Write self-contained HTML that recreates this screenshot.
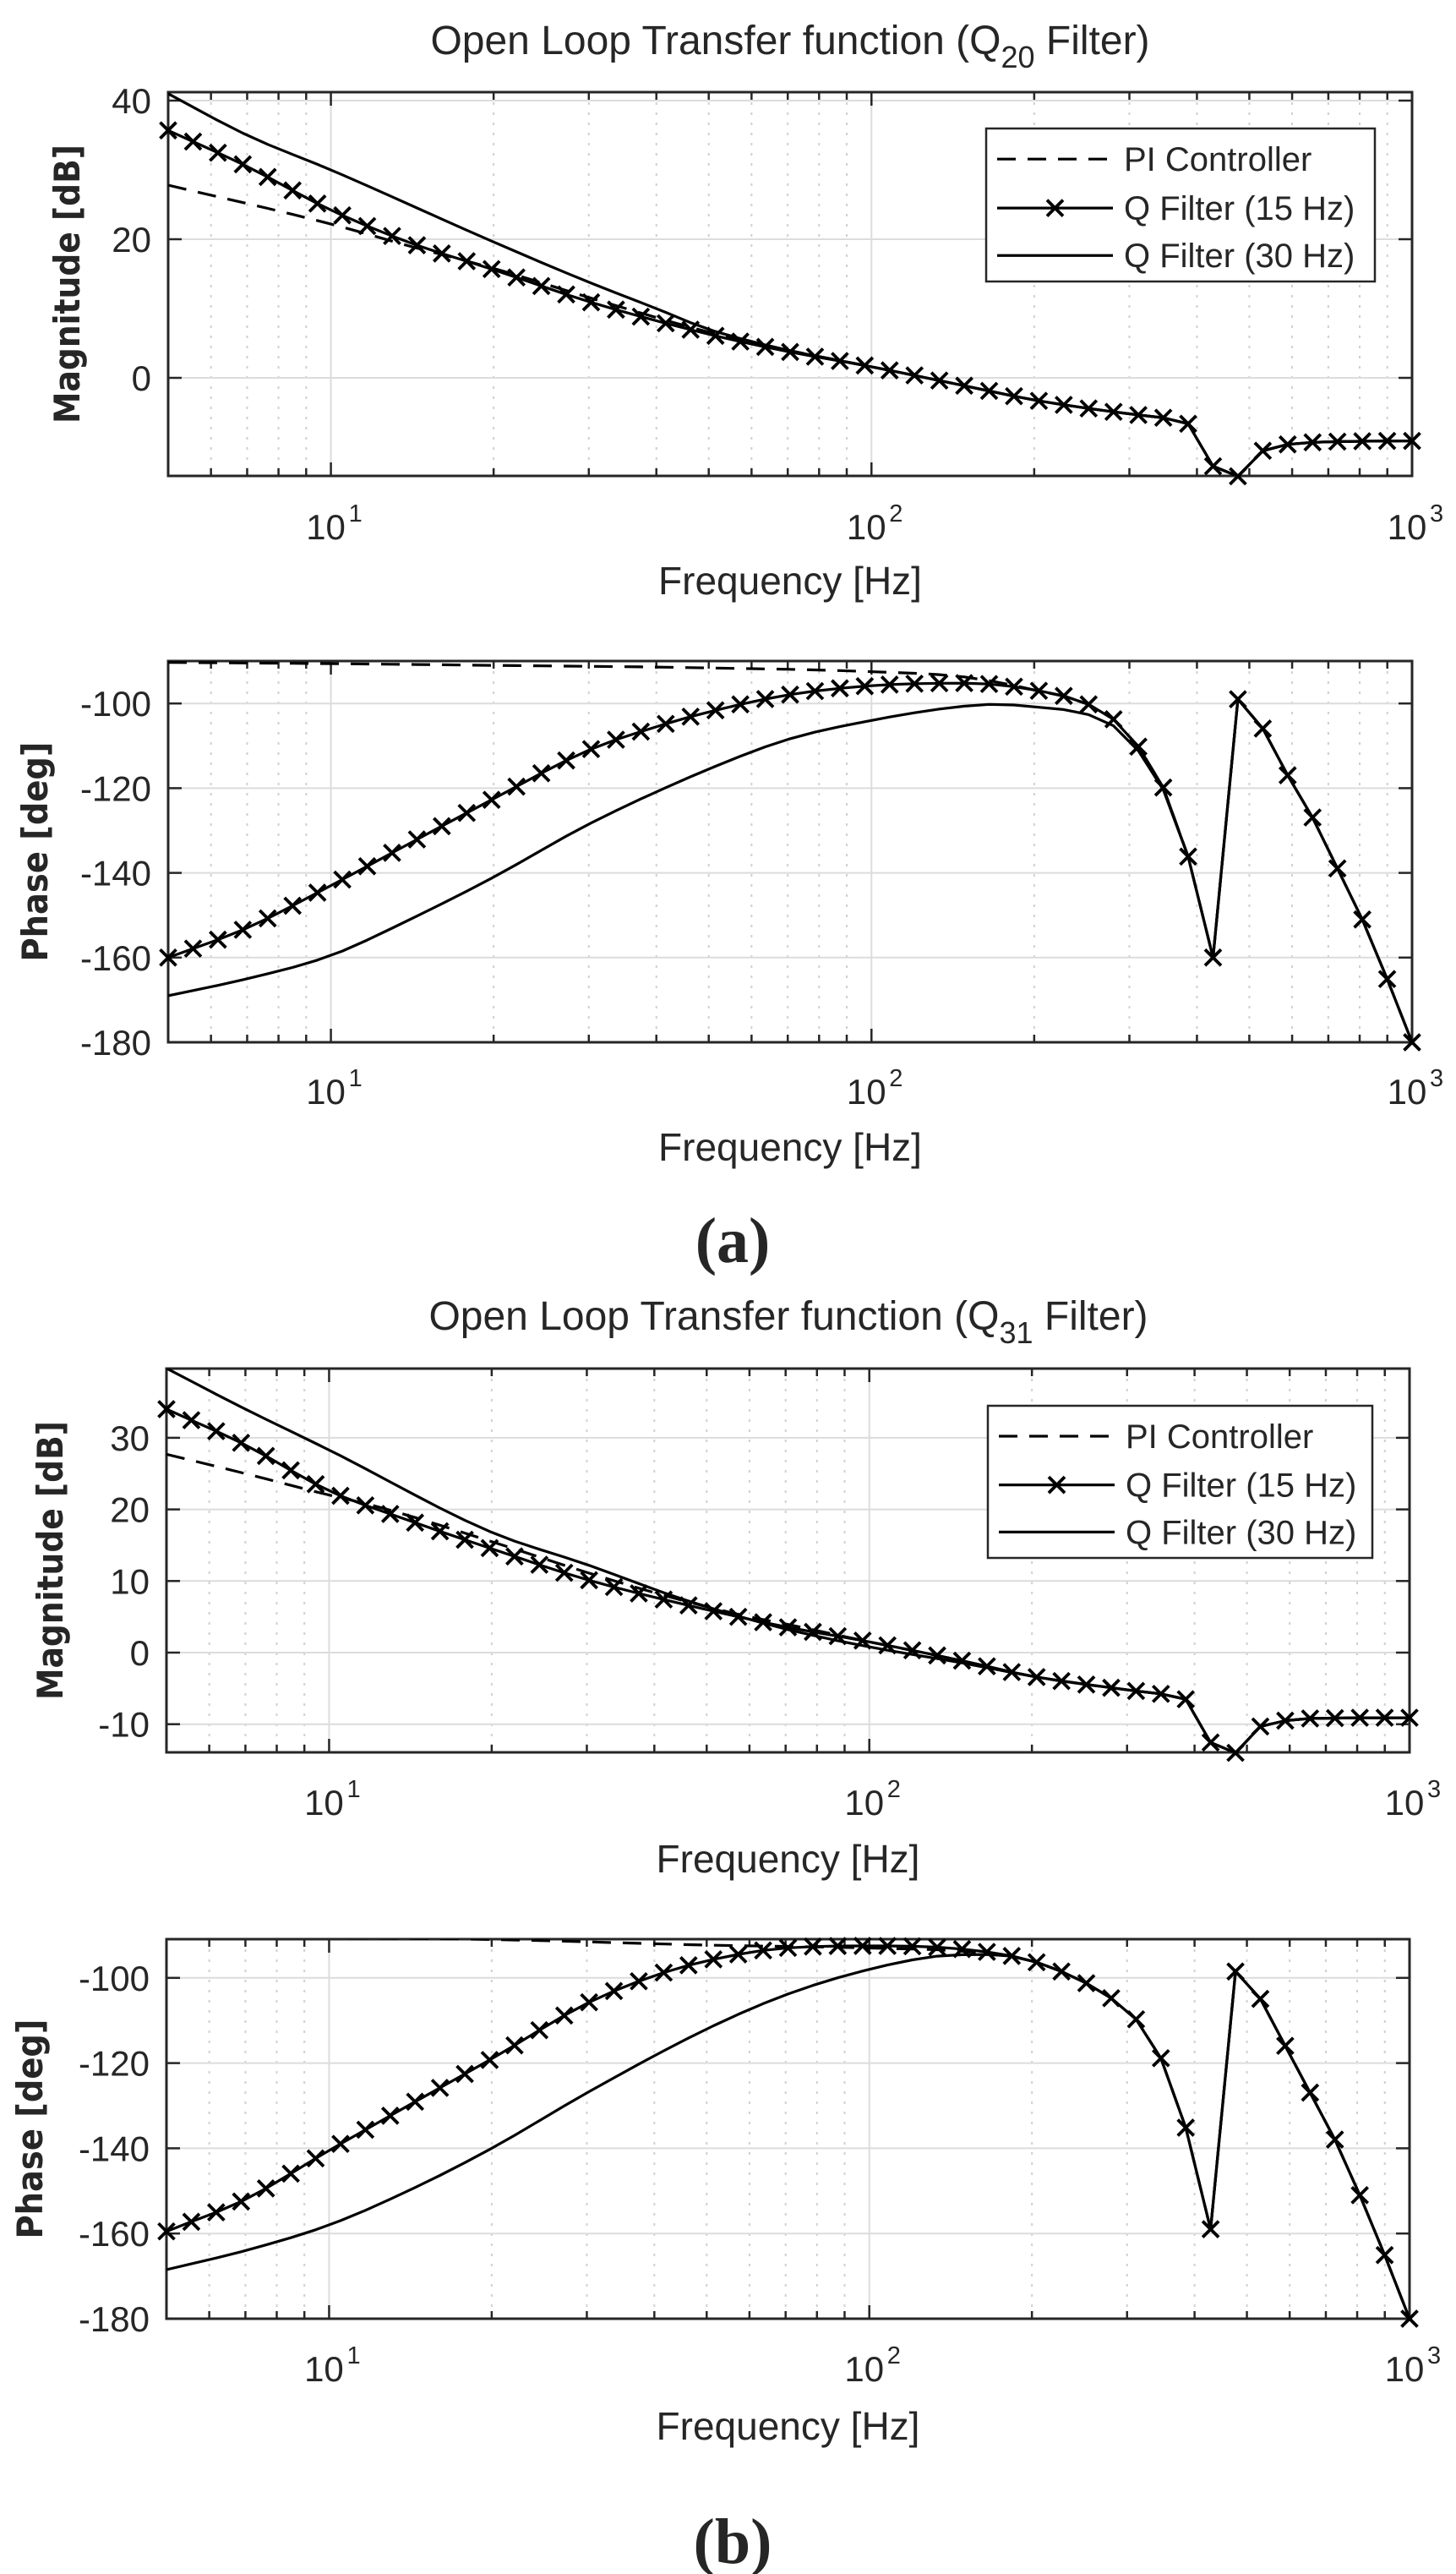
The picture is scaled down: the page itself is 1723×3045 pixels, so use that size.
<!DOCTYPE html>
<html><head><meta charset="utf-8">
<style>
html,body{margin:0;padding:0;background:#fff;}
svg{display:block;}
text{font-family:"Liberation Sans",Arial,sans-serif;fill:#262626;}
</style></head>
<body>
<svg id="s" xmlns="http://www.w3.org/2000/svg" width="1723" height="3045" viewBox="0 0 1723 3045"></svg>
<script>
const S=document.getElementById('s');
let out='';
const L5=Math.log10(5);
const grid=[];for(let k=0;k<=50;k++)grid.push(Math.pow(10,L5+k*(3-L5)/50));
function interp(pts,f){
 const xs=pts.map(p=>Math.log10(p[0])),ys=pts.map(p=>p[1]);const n=xs.length;const lf=Math.log10(f);
 const d=[];for(let i=0;i<n-1;i++)d.push((ys[i+1]-ys[i])/(xs[i+1]-xs[i]));
 const m=[d[0]];for(let i=1;i<n-1;i++){m.push(d[i-1]*d[i]<=0?0:(d[i-1]+d[i])/2);}m.push(d[n-2]);
 for(let i=0;i<n-1;i++){if(d[i]==0){m[i]=0;m[i+1]=0;continue;}const a=m[i]/d[i],b=m[i+1]/d[i];const s=a*a+b*b;if(s>9){const t=3/Math.sqrt(s);m[i]=t*a*d[i];m[i+1]=t*b*d[i];}}
 for(let i=0;i<n-1;i++){if(lf>=xs[i]-1e-9&&lf<=xs[i+1]+1e-9){const h=xs[i+1]-xs[i];const t=(lf-xs[i])/h;
  const h00=2*t*t*t-3*t*t+1,h10=t*t*t-2*t*t+t,h01=-2*t*t*t+3*t*t,h11=t*t*t-t*t;
  return h00*ys[i]+h10*h*m[i]+h01*ys[i+1]+h11*h*m[i+1];}}
 return ys[n-1];}
function axes(ax){
 const {L,R,T,B,y,yt,clip}=ax;
 const X=f=>L+(Math.log10(f)-L5)/(3-L5)*(R-L);
 ax.X=X;
 out+=`<defs><clipPath id="${clip}"><rect x="${L}" y="${T}" width="${R-L}" height="${B-T}"/></clipPath></defs>`;
 for(let d=0;d<3;d++)for(let m=1;m<10;m++){const f=m*Math.pow(10,d);if(f<5.01||f>1000)continue;
  const x=X(f);
  if(m==1){out+=`<line x1="${x}" y1="${T}" x2="${x}" y2="${B}" stroke="#dcdcdc" stroke-width="2"/>`;}
  else{out+=`<line x1="${x}" y1="${T}" x2="${x}" y2="${B}" stroke="#d0d0d0" stroke-width="2" stroke-dasharray="3,9"/>`;
   out+=`<line x1="${x}" y1="${B}" x2="${x}" y2="${B-9}" stroke="#262626" stroke-width="2.5"/><line x1="${x}" y1="${T}" x2="${x}" y2="${T+9}" stroke="#262626" stroke-width="2.5"/>`;}
 }
 yt.forEach(v=>{const yy=y(v);out+=`<line x1="${L}" y1="${yy}" x2="${R}" y2="${yy}" stroke="#dcdcdc" stroke-width="2"/>`;});
 [10,100].forEach(f=>{const x=X(f);out+=`<line x1="${x}" y1="${B}" x2="${x}" y2="${B-16}" stroke="#262626" stroke-width="2.5"/><line x1="${x}" y1="${T}" x2="${x}" y2="${T+16}" stroke="#262626" stroke-width="2.5"/>`;});
 yt.forEach(v=>{const yy=y(v);out+=`<line x1="${L}" y1="${yy}" x2="${L+16}" y2="${yy}" stroke="#262626" stroke-width="2.5"/><line x1="${R}" y1="${yy}" x2="${R-16}" y2="${yy}" stroke="#262626" stroke-width="2.5"/>`;
  out+=`<text x="${L-20}" y="${yy+15}" font-size="42" text-anchor="end">${v}</text>`;});
 out+=`<rect x="${L}" y="${T}" width="${R-L}" height="${B-T}" fill="none" stroke="#262626" stroke-width="3"/>`;
 [[10,1],[100,2],[1000,3]].forEach(([f,e])=>{const x=X(f);
  out+=`<text x="${x-6}" y="${ax.xtb}" font-size="42" text-anchor="middle">10</text><text x="${x+21}" y="${ax.xtb-21}" font-size="29">${e}</text>`;});
 out+=`<text x="${(L+R)/2}" y="${ax.xlb}" font-size="46" text-anchor="middle">Frequency [Hz]</text>`;
 out+=`<text transform="translate(${ax.ylx+6},${(T+B)/2}) rotate(-90)" font-size="42" font-weight="bold" text-anchor="middle" textLength="${ax.ylw}" lengthAdjust="spacingAndGlyphs" style="font-family:'DejaVu Sans',sans-serif" fill="#333">${ax.ylab}</text>`;
}
function curve(ax,pts,opt){
 const P=grid.map(f=>[ax.X(f),ax.y(interp(pts,f))]);
 const d='M'+P.map(p=>p[0].toFixed(1)+','+p[1].toFixed(1)).join('L');
 out+=`<path d="${d}" fill="none" stroke="#000" stroke-width="3.2" ${opt.dash?'stroke-dasharray="22,14"':''} clip-path="url(#${ax.clip})" stroke-linejoin="round"/>`;
 if(opt.mark){P.forEach(p=>{const yy=Math.min(Math.max(p[1],ax.T-2),ax.B+2);out+=xm(p[0],yy);});}
}
function xm(x,y){const r=9.5;return `<path d="M${x-r},${y-r}L${x+r},${y+r}M${x-r},${y+r}L${x+r},${y-r}" stroke="#000" stroke-width="3.8"/>`;}
function legend(x1,y1,x2,y2){
 out+=`<rect x="${x1}" y="${y1}" width="${x2-x1}" height="${y2-y1}" fill="#fff" stroke="#262626" stroke-width="2.5"/>`;
 const h=y2-y1;const rows=[y1+h*0.2,y1+h*0.52,y1+h*0.83];
 const lx1=x1+13,lx2=x1+150,tx=x1+163;
 out+=`<line x1="${lx1}" y1="${rows[0]}" x2="${lx2}" y2="${rows[0]}" stroke="#000" stroke-width="3.2" stroke-dasharray="22,14"/>`;
 out+=`<line x1="${lx1}" y1="${rows[1]}" x2="${lx2}" y2="${rows[1]}" stroke="#000" stroke-width="3.2"/>`+xm((lx1+lx2)/2,rows[1]);
 out+=`<line x1="${lx1}" y1="${rows[2]}" x2="${lx2}" y2="${rows[2]}" stroke="#000" stroke-width="3.2"/>`;
 ['PI Controller','Q Filter (15 Hz)','Q Filter (30 Hz)'].forEach((t,i)=>out+=`<text x="${tx}" y="${rows[i]+14}" font-size="40">${t}</text>`);
}
const hiMagA=[[100,1.6],[150,-1.2],[200,-3.2],[300,-5.2],[350,-5.8],[385,-6.6],[429,-12.8],[476,-14.2],[530,-10.5],[589,-9.6],[655,-9.3],[728,-9.2],[809,-9.15],[899,-9.1],[1000,-9.1]];
const hiPhA=[[200,-96.8],[250,-100],[282,-104],[313,-110.5],[347,-120],[385,-136],[429,-160],[476,-99],[530,-106],[589,-117],[655,-127],[728,-139],[809,-151],[899,-165],[1000,-180]];
const hiMagB=[[100,1.5],[150,-1.2],[200,-3.3],[300,-5.2],[350,-5.8],[385,-6.5],[429,-12.6],[476,-14],[530,-10.3],[589,-9.5],[655,-9.2],[728,-9.15],[809,-9.1],[899,-9.1],[1000,-9.1]];
const hiPhB=[[200,-96],[250,-101],[282,-105],[313,-110],[347,-119],[385,-135],[429,-159],[476,-98.5],[530,-105],[589,-116],[655,-127],[728,-138],[809,-151],[899,-165],[1000,-180]];

const A1={L:199,R:1671,T:109,B:563,y:v=>447-v*8.2,yt:[0,20,40],clip:'c1',xtb:638,xlb:703,ylx:88,ylw:330,ylab:'Magnitude [dB]'};
out+=`<text x="935" y="64" font-size="48" text-anchor="middle">Open Loop Transfer function (Q<tspan dy="16" font-size="36">20</tspan><tspan dy="-16"> Filter)</tspan></text>`;
axes(A1);
curve(A1,[[5,41],[7,35],[10,30],[20,19.6],[30,13.8],[40,10],[50,7],[70,4]].concat(hiMagA),{});
curve(A1,[[5,27.8],[10,22.2],[14,19],[20,15.8],[30,11.6],[50,6.6],[70,4]].concat(hiMagA),{dash:1});
curve(A1,[[5,35.7],[7,30.5],[10,24.2],[14,19.5],[20,15.6],[30,11],[50,6.3],[70,3.8]].concat(hiMagA),{mark:1});
legend(1167,152,1627,333);

const A2={L:199,R:1671,T:782,B:1233,y:v=>1233-(v+180)*5.01,yt:[-180,-160,-140,-120,-100],clip:'c2',xtb:1306,xlb:1373,ylx:50,ylw:260,ylab:'Phase [deg]'};
axes(A2);
curve(A2,[[5,-169],[7,-165],[10,-159.5],[14,-151],[20,-141],[30,-128.5],[50,-115.5],[70,-108.5],[100,-104],[140,-101],[170,-100.2],[200,-100.8],[250,-102.5],[282,-105.5],[313,-111.5],[347,-120.5]].concat(hiPhA.slice(5)),{});
curve(A2,[[5,-90.3],[10,-90.6],[20,-91],[50,-91.6],[100,-92.5],[150,-93.8]].concat(hiPhA),{dash:1});
curve(A2,[[5,-160],[7,-153],[10,-143],[14,-133],[20,-122.5],[30,-111],[40,-105.5],[50,-102],[70,-98],[100,-95.8],[150,-95.2]].concat(hiPhA),{mark:1});
out+=`<text x="867" y="1493" font-size="76" font-weight="bold" text-anchor="middle" style="font-family:'Liberation Serif',serif">(a)</text>`;

const B1={L:197,R:1668,T:1619,B:2073,y:v=>1955-v*8.47,yt:[-10,0,10,20,30],clip:'c3',xtb:2147,xlb:2215,ylx:68,ylw:330,ylab:'Magnitude [dB]'};
out+=`<text x="933" y="1573" font-size="48" text-anchor="middle">Open Loop Transfer function (Q<tspan dy="16" font-size="36">31</tspan><tspan dy="-16"> Filter)</tspan></text>`;
axes(B1);
curve(B1,[[5,39.7],[7,34],[10,28.3],[20,16.8],[30,12.3],[45,7.5],[70,3.3],[100,0.8],[150,-1.5]].concat(hiMagB.slice(2)),{});
curve(B1,[[5,27.7],[7,25],[10,22],[12,20.6],[20,15.5],[30,11.2],[45,7.3],[60,5],[70,4]].concat(hiMagB),{dash:1});
curve(B1,[[5,34],[7,29],[10,22.6],[14,18.5],[20,14.5],[30,10.2],[50,6],[70,3.6]].concat(hiMagB),{mark:1});
legend(1169,1663,1624,1843);

const B2={L:197,R:1668,T:2294,B:2743,y:v=>2743-(v+180)*5.04,yt:[-180,-160,-140,-120,-100],clip:'c4',xtb:2817,xlb:2886,ylx:44,ylw:260,ylab:'Phase [deg]'};
axes(B2);
curve(B2,[[5,-168.5],[7,-164],[10,-158],[14,-150],[20,-140],[30,-127],[50,-112],[70,-104],[100,-98],[140,-94.7],[170,-94.5]].concat(hiPhB),{});
curve(B2,[[5,-90.3],[20,-91],[50,-92.3],[100,-93],[150,-93.8]].concat(hiPhB),{dash:1});
curve(B2,[[5,-159.5],[7,-152],[10,-140.5],[14,-130],[20,-119],[30,-106],[40,-99.5],[50,-96],[70,-93],[100,-92.5],[150,-93.3]].concat(hiPhB),{mark:1});
out+=`<text x="867" y="3032" font-size="76" font-weight="bold" text-anchor="middle" style="font-family:'Liberation Serif',serif">(b)</text>`;
S.innerHTML=out;
</script>
</body></html>
